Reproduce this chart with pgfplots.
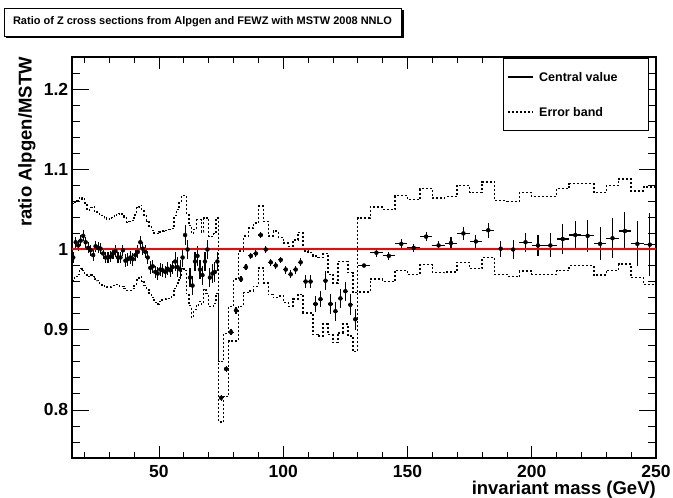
\documentclass[border=0pt]{standalone}
\usepackage{fontspec}
\setmainfont{Liberation Sans}
\usepackage{xcolor}
\usepackage{pgfplots}
\pgfplotsset{compat=1.18}
\usepackage{pgfplotstable}

\pgfplotstableread{
x y ex ey
15.5 0.990 0.5 0.007
16.5 1.009 0.5 0.007
17.5 1.005 0.5 0.007
18.5 1.011 0.5 0.007
19.5 1.017 0.5 0.007
20.5 1.009 0.5 0.007
21.5 1.002 0.5 0.007
22.5 0.999 0.5 0.007
23.5 0.993 0.5 0.007
24.5 1.004 0.5 0.007
25.5 1.002 0.5 0.007
26.5 1.001 0.5 0.007
27.5 0.995 0.5 0.007
28.5 0.990 0.5 0.007
29.5 0.990 0.5 0.007
30.5 0.991 0.5 0.007
31.5 0.995 0.5 0.007
32.5 0.998 0.5 0.007
33.5 0.990 0.5 0.007
34.5 0.990 0.5 0.007
35.5 0.999 0.5 0.007
36.5 0.986 0.5 0.008
37.5 0.988 0.5 0.008
38.5 0.990 0.5 0.008
39.5 0.988 0.5 0.008
40.5 0.993 0.5 0.008
41.5 0.997 0.5 0.008
42.5 1.009 0.5 0.008
43.5 1.001 0.5 0.008
44.5 0.997 0.5 0.008
45.5 0.990 0.5 0.008
46.5 0.977 0.5 0.008
47.5 0.979 0.5 0.008
48.5 0.972 0.5 0.008
49.5 0.970 0.5 0.008
50.5 0.975 0.5 0.008
51.5 0.974 0.5 0.008
52.5 0.972 0.5 0.008
53.5 0.976 0.5 0.008
54.5 0.974 0.5 0.008
55.5 0.978 0.5 0.008
56.5 0.985 0.5 0.012
57.5 0.978 0.5 0.012
58.5 0.975 0.5 0.012
59.5 0.990 0.5 0.012
60.5 1.018 0.5 0.012
61.5 1.000 0.5 0.012
62.5 0.965 0.5 0.012
63.5 0.955 0.5 0.012
64.5 0.985 0.5 0.012
65.5 0.992 0.5 0.012
66.5 0.975 0.5 0.012
67.5 0.968 0.5 0.012
68.5 0.985 0.5 0.012
69.5 1.000 0.5 0.012
70.5 0.965 0.5 0.012
71.5 0.970 0.5 0.012
72.5 0.972 0.5 0.012
73.5 0.985 0.5 0.012
75 0.815 1 0.004
77 0.851 1 0.004
79 0.897 1 0.004
81 0.924 1 0.004
83 0.963 1 0.004
85 0.978 1 0.004
87 0.992 1 0.004
89 0.995 1 0.004
91 1.018 1 0.004
93 1.000 1 0.004
95 0.984 1 0.004
97 0.980 1 0.004
99 0.987 1 0.004
101 0.975 1 0.005
103 0.969 1 0.005
105 0.975 1 0.005
107 0.984 1 0.005
109 0.960 1 0.008
111 0.960 1 0.008
113 0.932 1 0.010
115 0.938 1 0.010
117 0.961 1 0.012
119 0.932 1 0.012
121 0.923 1 0.012
123 0.939 1 0.012
125 0.948 1 0.012
127 0.931 1 0.013
129 0.913 1 0.013
132.5 0.980 2.5 0.002
137.5 0.996 2.5 0.006
142.5 0.992 2.5 0.005
147.5 1.007 2.5 0.0056
152.5 1.002 2.5 0.005
157.5 1.016 2.5 0.006
162.5 1.005 2.5 0.006
167.5 1.008 2.5 0.007
172.5 1.020 2.5 0.008
177.5 1.010 2.5 0.008
182.5 1.024 2.5 0.0095
187.5 1.001 2.5 0.010
192.5 1.000 2.5 0.012
197.5 1.009 2.5 0.012
202.5 1.005 2.5 0.0135
207.5 1.005 2.5 0.015
212.5 1.013 2.5 0.019
217.5 1.018 2.5 0.0176
222.5 1.017 2.5 0.0197
227.5 1.007 2.5 0.0205
232.5 1.014 2.5 0.025
237.5 1.023 2.5 0.024
242.5 1.007 2.5 0.028
247.5 1.006 2.5 0.039
}\central

\pgfplotstableread{
x u l
15 1.057 0.961
16 1.059 0.966
17 1.061 0.969
18 1.065 0.976
19 1.063 0.974
20 1.058 0.970
21 1.049 0.966
22 1.052 0.968
23 1.053 0.966
24 1.047 0.963
25 1.046 0.961
26 1.044 0.958
27 1.042 0.955
28 1.039 0.954
29 1.037 0.953
30 1.038 0.953
31 1.040 0.955
32 1.043 0.956
33 1.045 0.956
34 1.044 0.954
35 1.044 0.954
36 1.040 0.951
37 1.034 0.949
38 1.035 0.949
39 1.036 0.951
40 1.043 0.955
41 1.052 0.962
42 1.055 0.966
43 1.048 0.960
44 1.042 0.955
45 1.035 0.950
46 1.028 0.945
47 1.024 0.940
48 1.020 0.934
49 1.020 0.932
50 1.022 0.935
51 1.023 0.937
52 1.024 0.938
53 1.024 0.939
54 1.025 0.939
55 1.026 0.943
56 1.042 0.951
57 1.050 0.958
58 1.058 0.965
59 1.067 0.976
60 1.067 0.974
61 1.045 0.945
62 1.030 0.930
63 1.020 0.916
64 1.025 0.925
65 1.037 0.930
66 1.037 0.935
67 1.022 0.932
68 1.039 0.950
69 1.039 0.945
70 1.016 0.929
71 1.016 0.929
72 1.020 0.933
73 1.039 0.945
74 0.860 0.785
76 0.895 0.817
78 0.929 0.886
80 0.963 0.886
82 0.998 0.929
84 1.017 0.946
86 1.027 0.948
88 1.033 0.954
90 1.054 0.977
92 1.035 0.958
94 1.017 0.944
96 1.023 0.940
98 1.015 0.942
100 1.008 0.934
102 1.004 0.929
104 1.012 0.938
106 1.021 0.944
108 0.998 0.921
110 0.996 0.921
112 0.992 0.894
114 0.990 0.892
116 0.995 0.907
118 0.969 0.894
120 0.958 0.884
122 0.985 0.896
124 0.985 0.907
126 0.971 0.892
128 0.946 0.873
130 1.039 0.947
135 1.053 0.963
140 1.050 0.960
145 1.067 0.974
150 1.062 0.969
155 1.076 0.981
160 1.064 0.971
165 1.066 0.972
170 1.080 0.984
175 1.071 0.976
180 1.084 0.990
185 1.061 0.969
190 1.060 0.966
195 1.071 0.973
200 1.066 0.969
205 1.066 0.969
210 1.076 0.974
215 1.082 0.980
220 1.082 0.980
225 1.071 0.968
230 1.080 0.974
235 1.088 0.982
240 1.073 0.965
245 1.078 0.956
250 1.078 0.956
}\band

\begin{document}
\begin{tikzpicture}
\begin{axis}[name=ax, scale only axis, width=584pt, height=401pt,
  xmin=15, xmax=250, ymin=0.74, ymax=1.24,
  xtick={50,100,150,200,250},
  minor xtick={20,30,40,60,70,80,90,110,120,130,140,160,170,180,190,210,220,230,240},
  ytick={0.8,0.9,1,1.1,1.2},
  minor ytick={0.76,0.78,0.82,0.84,0.86,0.88,0.92,0.94,0.96,0.98,1.02,1.04,1.06,1.08,1.12,1.14,1.16,1.18,1.22},
  tick align=inside,
  xtick style={/pgfplots/major tick length=12pt,/pgfplots/minor tick length=6pt,line width=0.7pt,black},
  ytick style={/pgfplots/major tick length=17pt,/pgfplots/minor tick length=8.5pt,line width=0.7pt,black},
  axis line style={line width=1.1pt},
  /pgf/number format/assume math mode=true,
  yticklabel style={/pgf/number format/fixed, font=\fontsize{17.5}{18}\selectfont\bfseries, inner sep=0pt, xshift=-3.7pt},
  xticklabel style={font=\fontsize{17.5}{18}\selectfont\bfseries, inner sep=0pt, yshift=-7pt},
]
\addplot[const plot mark left, black, line width=1.4pt, dash pattern=on 2pt off 2pt] table[x=x, y=u]{\band};
\addplot[const plot mark left, black, line width=1.4pt, dash pattern=on 2pt off 2pt] table[x=x, y=l]{\band};
\addplot[only marks, mark=none, black,
  error bars/.cd, x dir=both, x explicit, y dir=both, y explicit, error mark=none,
  error bar style={line width=1.1pt, black, solid}]
  table[x=x, y=y, x error=ex, y error=ey]{\central};
\addplot[draw=red, solid, no marks, line width=2pt] coordinates {(15,1) (250,1)};
\end{axis}
\node[rotate=90, anchor=base east, inner sep=0pt, font=\fontsize{18.5}{20}\selectfont\bfseries] at ([xshift=-40.3pt]ax.north west) {ratio Alpgen/MSTW};
\node[anchor=base east, inner sep=0pt, font=\fontsize{18.5}{20}\selectfont\bfseries] at ([yshift=-37pt]ax.south east) {invariant mass (GeV)};
\begin{scope}[shift={(ax.north west)}]
  \fill[black] (-65.5pt,18.5pt) rectangle (331.5pt,46.5pt);
  \draw[fill=white, line width=0.7pt] (-68pt,21pt) rectangle (329pt,49pt);
  \node[inner sep=0pt, font=\fontsize{11}{13}\selectfont\bfseries] at (130.5pt,35pt) {Ratio of Z cross sections from Alpgen and FEWZ with MSTW 2008 NNLO};
  \draw[fill=white, line width=0.7pt] (431pt,-1pt) rectangle (576pt,-73pt);
  \draw[line width=1.2pt] (436pt,-20pt) -- (461pt,-20pt);
  \node[anchor=west, inner sep=0pt, font=\fontsize{12.5}{14}\selectfont\bfseries] at (467pt,-20pt) {Central value};
  \draw[line width=1.4pt, dash pattern=on 2pt off 2pt] (436pt,-55pt) -- (461pt,-55pt);
  \node[anchor=west, inner sep=0pt, font=\fontsize{12.5}{14}\selectfont\bfseries] at (467pt,-55pt) {Error band};
\end{scope}
\pgfresetboundingbox
\path[use as bounding box] ([shift={(-72pt,-40pt)}]ax.south west) rectangle ([shift={(17pt,57pt)}]ax.north east);
\end{tikzpicture}
\end{document}
